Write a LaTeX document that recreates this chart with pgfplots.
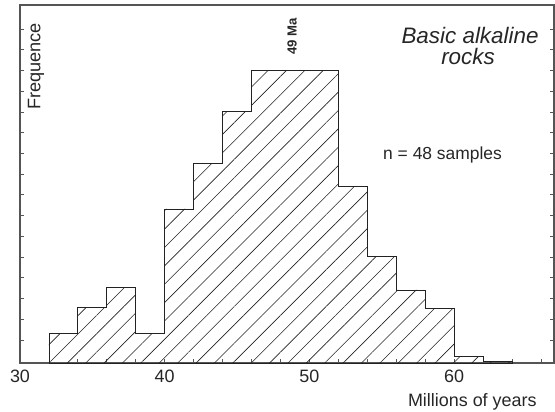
\documentclass[border=0pt]{standalone}
\usepackage{fontspec}
\setmainfont{Liberation Sans}
\usepackage{pgfplots}
\pgfplotsset{compat=1.18}
\usetikzlibrary{patterns.meta}

\definecolor{axisgray}{HTML}{555555}
\definecolor{bargray}{HTML}{222222}

\begin{document}
\begin{tikzpicture}
\begin{axis}[
    name=ax,
    scale only axis,
    width=534bp, height=358bp,
    xmin=30, xmax=66.9,
    ymin=0, ymax=358,
    axis line style={axisgray, line width=1.1bp},
    tick align=inside,
    xtick pos=bottom,
    ytick pos=both,
    xtick={30,40,50,60},
    minor xtick={32,34,...,66},
    ytick={23,43.73,...,335},
    yticklabels={},
    major tick length=4bp,
    minor tick length=4bp,
    tick style={axisgray, line width=0.8bp},
    /pgf/number format/assume math mode=true,
    xticklabel style={font=\fontsize{18}{21}\selectfont, text=black!85, yshift=-3bp},
    clip=false,
]
% histogram, heights in axis units
\addplot[const plot, draw=bargray, line width=0.8bp,
    pattern={Lines[angle=45, distance=13bp, line width=0.6bp]}, pattern color=bargray]
coordinates {
(32,29.7) (34,55.3) (36,75.3) (38,29.7) (40,154) (42,199.7) (44,251.3)
(46,292.3) (48,292.3) (50,292.3) (52,176.3) (54,106.3) (56,73) (58,55)
(60,6.5) (62,2) (64,2)
} \closedcycle;

\node[rotate=90, font=\fontsize{18.2}{21}\selectfont, text=black!85]
    at (axis cs:31.1,296.5) {Frequence};
\node[rotate=90, font=\fontsize{13.2}{16}\selectfont\bfseries, text=black!85]
    at (axis cs:48.81,326.3) {49 Ma};
\node[anchor=base, font=\fontsize{22.5}{27}\selectfont\itshape, text=black!85, inner sep=0pt]
    at (axis cs:61.1,319.7) {Basic alkaline};
\node[anchor=base, font=\fontsize{22.5}{27}\selectfont\itshape, text=black!85, inner sep=0pt]
    at (axis cs:60.96,298) {rocks};
\node[anchor=base, font=\fontsize{17.5}{21}\selectfont, text=black!85, inner sep=0pt]
    at (axis cs:59.2,203) {n = 48 samples};
\node[anchor=base east, font=\fontsize{18}{21}\selectfont, text=black!85, inner sep=0pt]
    at (axis cs:65.71,-43.7) {Millions of years};
\end{axis}
\pgfresetboundingbox
\path ([xshift=-20bp,yshift=-49bp]ax.south west) rectangle ([xshift=1bp,yshift=5bp]ax.north east);
\end{tikzpicture}
\end{document}
